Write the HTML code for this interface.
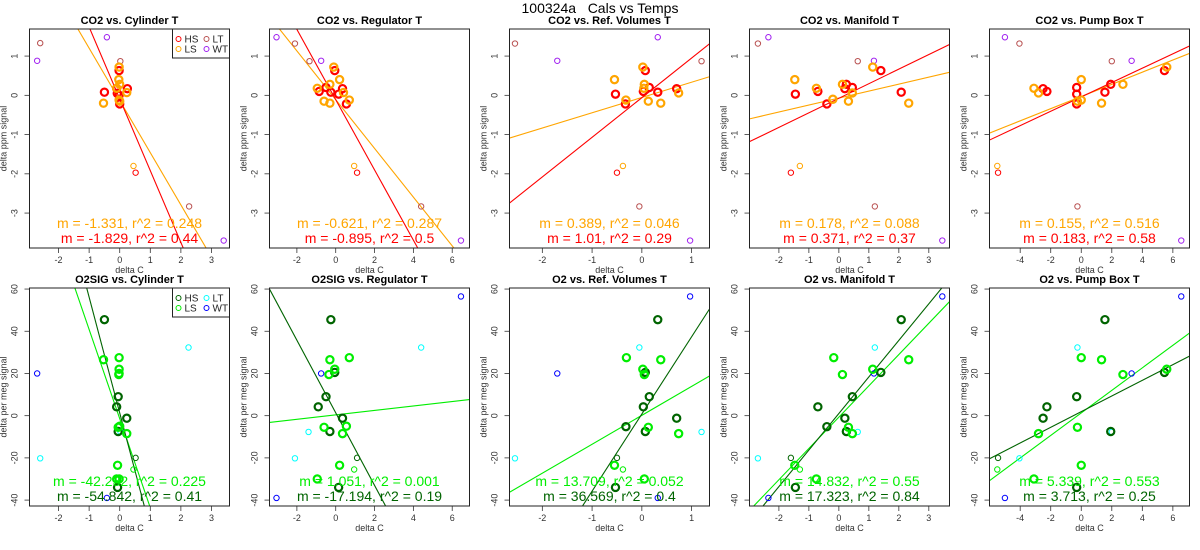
<!DOCTYPE html>
<html><head><meta charset="utf-8"><style>
html,body{margin:0;padding:0;background:#fff;width:1200px;height:550px;overflow:hidden;}
svg{display:block;font-family:"Liberation Sans",sans-serif;}
</style></head><body>
<svg id="chart" width="1200" height="550" viewBox="0 0 1200 550">
<text x="600" y="13" text-anchor="middle" font-size="14">100324a&#160;&#160;&#160;Cals vs Temps</text>
</svg>
<script>
// ---------- axis ranges ----------
const xRanges = [[-2.95,3.59],[-3.41,6.89],[-2.66,1.36],[-2.98,3.69],[-6.01,7.09]];
const xTicks = [[-2,-1,0,1,2,3],[-2,0,2,4,6],[-2,-1,0,1],[-2,-1,0,1,2,3],[-4,-2,0,2,4,6]];
const yRange1 = [-3.89,1.69];
const yRange2 = [-42.8,60.5];
const yTicks1 = [-3,-2,-1,0,1];
const yTicks2 = [-40,-20,0,20,40,60];
const titles1 = ["CO2 vs. Cylinder T","CO2 vs. Regulator T","CO2 vs. Ref. Volumes T","CO2 vs. Manifold T","CO2 vs. Pump Box T"];
const titles2 = ["O2SIG vs. Cylinder T","O2SIG vs. Regulator T","O2 vs. Ref. Volumes T","O2 vs. Manifold T","O2 vs. Pump Box T"];

// ---------- row 1 (CO2) data ----------
const r1p1_HS=[[-0.5,0.08],[-0.1,0.18],[-0.08,0.05],[-0.02,0.63],[0.25,0.17],[0,-0.22],[-0.02,0]];
const r1p1_LS=[[-0.53,-0.2],[-0.02,0.72],[-0.03,0.4],[0,0.28],[0.23,0.07],[-0.02,-0.12],[0,-0.15],[-0.1,0.18]];
const r1p1_hs=[[0.52,-1.97]], r1p1_ls=[[0.45,-1.8]];
const r1p1_LT=[[-2.6,1.33],[0.02,0.87],[2.27,-2.83]];
const r1p1_WT=[[-2.7,0.88],[-0.42,1.48],[3.4,-3.7]];

const r1p2_HS=[[-0.5,0.2],[-0.85,0.1],[-0.25,0.08],[-0.05,0.63],[0.35,0.17],[0.15,0.03],[0.55,-0.22]];
const r1p2_LS=[[-0.95,0.18],[-0.3,0.28],[-0.1,0.72],[0.2,0.4],[-0.6,-0.15],[-0.3,-0.2],[0.4,0.07],[0.7,-0.12]];
const r1p2_hs=[[1.1,-1.97]], r1p2_ls=[[0.95,-1.8]];
const r1p2_LT=[[-2.1,1.32],[-1.35,0.87],[4.4,-2.83]];
const r1p2_WT=[[-3.05,1.48],[-0.75,0.88],[6.45,-3.7]];

const r1p3_HS=[[-0.53,0.03],[-0.33,-0.22],[0.07,0.63],[0.03,0.1],[0.15,0.2],[0.32,0.08],[0.7,0.17]];
const r1p3_LS=[[-0.55,0.4],[0.02,0.72],[0.05,0.28],[0.04,0.18],[-0.32,-0.12],[0.13,-0.15],[0.38,-0.2],[0.74,0.06]];
const r1p3_hs=[[-0.5,-1.97]], r1p3_ls=[[-0.38,-1.8]];
const r1p3_LT=[[-2.55,1.32],[1.2,0.87],[-0.05,-2.83]];
const r1p3_WT=[[-1.7,0.88],[0.32,1.48],[0.97,-3.7]];

const r1p4_HS=[[-1.45,0.03],[-0.7,0.1],[-0.4,-0.22],[0.2,0.17],[0.25,0.28],[0.45,0.2],[1.4,0.63],[2.08,0.08]];
const r1p4_LS=[[-1.47,0.4],[-0.75,0.18],[-0.2,-0.1],[0.12,0.28],[0.32,-0.15],[0.45,0.06],[1.13,0.72],[2.33,-0.2]];
const r1p4_hs=[[-1.6,-1.97]], r1p4_ls=[[-1.3,-1.8]];
const r1p4_LT=[[-2.7,1.32],[0.63,0.87],[1.2,-2.83]];
const r1p4_WT=[[-2.35,1.48],[1.17,0.88],[3.45,-3.7]];

const r1p5_HS=[[-2.5,0.17],[-2.25,0.1],[-0.3,0.2],[-0.3,0.03],[-0.3,-0.22],[1.55,0.08],[1.93,0.28],[5.45,0.63]];
const r1p5_LS=[[-3.1,0.18],[-2.8,0.06],[0,0.4],[0,-0.12],[-0.25,-0.15],[1.33,-0.2],[2.73,0.28],[5.6,0.72]];
const r1p5_hs=[[-5.45,-1.97]], r1p5_ls=[[-5.5,-1.8]];
const r1p5_LT=[[-4.05,1.32],[2,0.87],[-0.25,-2.83]];
const r1p5_WT=[[-5,1.48],[3.3,0.88],[6.55,-3.7]];

// ---------- row 2 (O2) data ----------
const r2p1_HS=[[-0.5,45.5],[-0.05,9],[-0.1,4.2],[0.23,-1.2],[-0.05,-7.5],[-0.07,-34]];
const r2p1_LS=[[-0.53,26.5],[-0.02,27.5],[-0.02,22],[-0.02,20],[-0.03,19.5],[-0.05,-5.5],[0,-5],[0.23,-8.5],[-0.07,-23.5],[-0.1,-30],[-0.02,-30]];
const r2p1_hs=[[0.52,-20]], r2p1_ls=[[0.45,-25.5]];
const r2p1_LT=[[2.25,32.3],[-2.6,-20.2],[0.02,-7.5]];
const r2p1_WT=[[-2.7,20],[-0.42,-39]];

const r2p2_HS=[[-0.25,45.5],[-0.5,9],[-0.9,4.2],[0.35,-1.2],[-0.3,-7.5],[0.15,-34],[-0.05,20.5]];
const r2p2_LS=[[-0.3,26.5],[0.7,27.5],[-0.05,22],[-0.35,19.5],[-0.6,-5.5],[0.55,-5],[0.35,-8.5],[0.2,-23.5],[-0.95,-30]];
const r2p2_hs=[[1.1,-20]], r2p2_ls=[[0.95,-25.5]];
const r2p2_LT=[[4.4,32.3],[-2.1,-20.2],[-1.4,-7.7]];
const r2p2_WT=[[6.45,56.5],[-0.75,20],[-3.05,-39]];

const r2p3_HS=[[0.32,45.5],[0.15,9],[0.03,4.2],[0.7,-1.2],[-0.32,-5.2],[0.07,-7.5],[-0.53,-34],[0.07,20.5]];
const r2p3_LS=[[-0.31,27.5],[0.38,26.5],[0.02,22],[0.05,19.5],[0.13,-5.5],[0.74,-8.5],[-0.55,-23.5],[0.05,-30]];
const r2p3_hs=[[-0.5,-20]], r2p3_ls=[[-0.38,-25.5]];
const r2p3_LT=[[-0.05,32.3],[-2.55,-20.2],[1.2,-7.7]];
const r2p3_WT=[[0.97,56.5],[-1.7,20],[0.32,-39]];

const r2p4_HS=[[2.08,45.5],[0.45,9],[-0.7,4.2],[0.2,-1.2],[-0.4,-5.2],[0.25,-7.5],[-1.45,-34],[1.4,20.5]];
const r2p4_LS=[[-0.17,27.5],[2.33,26.5],[1.13,22],[0.12,19.5],[0.32,-5.5],[0.45,-8.5],[-1.47,-23.5],[-0.75,-30]];
const r2p4_hs=[[-1.6,-20]], r2p4_ls=[[-1.3,-25.5]];
const r2p4_LT=[[1.2,32.3],[-2.7,-20.2],[0.63,-7.7]];
const r2p4_WT=[[3.45,56.5],[1.17,20],[-2.35,-39]];

const r2p5_HS=[[1.55,45.5],[-0.3,9],[-2.25,4.2],[-2.5,-1.2],[1.93,-7.5],[-0.3,-34],[5.45,20.5]];
const r2p5_LS=[[0,27.5],[1.33,26.5],[5.6,22],[2.73,19.5],[-0.25,-5.5],[-2.8,-8.5],[0,-23.5],[-3.1,-30]];
const r2p5_hs=[[-5.45,-20]], r2p5_ls=[[-5.5,-25.5]];
const r2p5_LT=[[-0.25,32.3],[-4.05,-20.2],[2,-7.7]];
const r2p5_WT=[[6.55,56.5],[3.3,20],[-5,-39]];

// ---------- fit lines ----------
const slopesLS1=[-1.331,-0.621,0.389,0.178,0.155];
const interLS1=[-0.13,-0.11,-0.055,-0.07,-0.03];
const slopesHS1=[-1.829,-0.895,1.01,0.371,0.183];
const interHS1=[-0.09,-0.11,-0.06,-0.075,-0.04];
const slopesLS2=[-42.232,1.051,13.709,14.832,5.339];
const interLS2=[-1.4,0.38,0.16,-0.7,1.3];
const slopesHS2=[-54.842,-17.194,36.569,17.323,3.713];
const interHS2=[1.3,1.37,0.8,1.03,1.9];
const labelsLS1=["m = -1.331, r^2 = 0.248","m = -0.621, r^2 = 0.287","m = 0.389, r^2 = 0.046","m = 0.178, r^2 = 0.088","m = 0.155, r^2 = 0.516"];
const labelsHS1=["m = -1.829, r^2 = 0.44","m = -0.895, r^2 = 0.5","m = 1.01, r^2 = 0.29","m = 0.371, r^2 = 0.37","m = 0.183, r^2 = 0.58"];
const labelsLS2=["m = -42.232, r^2 = 0.225","m = 1.051, r^2 = 0.001","m = 13.709, r^2 = 0.052","m = 14.832, r^2 = 0.55","m = 5.339, r^2 = 0.553"];
const labelsHS2=["m = -54.842, r^2 = 0.41","m = -17.194, r^2 = 0.19","m = 36.569, r^2 = 0.4","m = 17.323, r^2 = 0.84","m = 3.713, r^2 = 0.25"];

const rows=[
 {top:29,bot:248,yr:yRange1,yt:yTicks1,titles:titles1,ylab:"delta ppm signal",
  cols:{HS:"#ff0000",LS:"#ffa500",LT:"#b85050",WT:"#a020f0"},
  data:[[r1p1_HS,r1p1_LS,r1p1_hs,r1p1_ls,r1p1_LT,r1p1_WT],[r1p2_HS,r1p2_LS,r1p2_hs,r1p2_ls,r1p2_LT,r1p2_WT],[r1p3_HS,r1p3_LS,r1p3_hs,r1p3_ls,r1p3_LT,r1p3_WT],[r1p4_HS,r1p4_LS,r1p4_hs,r1p4_ls,r1p4_LT,r1p4_WT],[r1p5_HS,r1p5_LS,r1p5_hs,r1p5_ls,r1p5_LT,r1p5_WT]],
  sLS:slopesLS1,iLS:interLS1,sHS:slopesHS1,iHS:interHS1,lLS:labelsLS1,lHS:labelsHS1,ty:[24,228,243]},
 {top:288,bot:506,yr:yRange2,yt:yTicks2,titles:titles2,ylab:"delta per meg signal",
  cols:{HS:"#006400",LS:"#00ee00",LT:"#00ffff",WT:"#0000ff"},
  data:[[r2p1_HS,r2p1_LS,r2p1_hs,r2p1_ls,r2p1_LT,r2p1_WT],[r2p2_HS,r2p2_LS,r2p2_hs,r2p2_ls,r2p2_LT,r2p2_WT],[r2p3_HS,r2p3_LS,r2p3_hs,r2p3_ls,r2p3_LT,r2p3_WT],[r2p4_HS,r2p4_LS,r2p4_hs,r2p4_ls,r2p4_LT,r2p4_WT],[r2p5_HS,r2p5_LS,r2p5_hs,r2p5_ls,r2p5_LT,r2p5_WT]],
  sLS:slopesLS2,iLS:interLS2,sHS:slopesHS2,iHS:interHS2,lLS:labelsLS2,lHS:labelsHS2,ty:[283,486,501]}
];

const svg=document.getElementById('chart');
const NS="http://www.w3.org/2000/svg";
function mk(tag,attrs,parent,txt){const e=document.createElementNS(NS,tag);for(const k in attrs)e.setAttribute(k,attrs[k]);if(txt!==undefined)e.textContent=txt;(parent||svg).appendChild(e);return e;}

rows.forEach((row,ri)=>{
 for(let c=0;c<5;c++){
  const L=29.5+240*c, R=L+200, T=row.top, B=row.bot;
  const xr=xRanges[c];
  const sx=v=>L+(v-xr[0])/(xr[1]-xr[0])*(R-L);
  const sy=v=>B-(v-row.yr[0])/(row.yr[1]-row.yr[0])*(B-T);
  const g=mk('g',{});
  
  
  const clipId='clip'+ri+c;
  const cp=mk('clipPath',{id:clipId},g);mk('rect',{x:L,y:T,width:R-L,height:B-T},cp);
  const t=mk('text',{x:(L+R)/2,y:row.ty[0],'text-anchor':'middle','font-size':11,'font-weight':'bold'},g,row.titles[c]);
  
  
  xTicks[c].forEach(v=>{
   mk('line',{x1:sx(v),x2:sx(v),y1:B,y2:B+5,stroke:'#333','stroke-width':0.8},g);
   const tl=mk('text',{x:sx(v),y:B+15,'text-anchor':'middle','font-size':9,fill:'#333'},g,String(v));
   
   
  });
  const xl=mk('text',{x:(L+R)/2,y:B+25,'text-anchor':'middle','font-size':9,fill:'#333'},g,'delta C');
  
  
  row.yt.forEach(v=>{
   mk('line',{x1:L-5,x2:L,y1:sy(v),y2:sy(v),stroke:'#333','stroke-width':0.8},g);
   const yl=mk('text',{x:L-12,y:sy(v),'text-anchor':'middle','font-size':9,fill:'#333',transform:`rotate(-90 ${L-12} ${sy(v)})`},g,String(v));
   
   
  });
  const yt=mk('text',{x:L-23,y:(T+B)/2,'text-anchor':'middle','font-size':9,fill:'#333',transform:`rotate(-90 ${L-23} ${(T+B)/2})`},g,row.ylab);
  
  
  const pg=mk('g',{'clip-path':`url(#${clipId})`},g);
  [['LS',row.sLS[c],row.iLS[c]],['HS',row.sHS[c],row.iHS[c]]].forEach(([k,m,b])=>{
   const ln=mk('line',{x1:sx(xr[0]),y1:sy(m*xr[0]+b),x2:sx(xr[1]),y2:sy(m*xr[1]+b),stroke:row.cols[k],'stroke-width':1.1},pg);
   
   
  });
  const d=row.data[c];
  const spec=[['LT',1,2.7],['WT',1,2.7],['hs',1,2.7],['ls',1,2.7],['HS',2.2,3.6],['LS',2.2,3.6]];
  const idx={HS:0,LS:1,hs:2,ls:3,LT:4,WT:5};
  spec.forEach(([k,w,r])=>{
   const col=row.cols[k.toUpperCase()];
   d[idx[k]].forEach(p=>{
    const ci=mk('circle',{cx:sx(p[0]),cy:sy(p[1]),r:r,fill:'none',stroke:col,'stroke-width':w},pg);
    
    
   });
  });
  mk('rect',{x:L,y:T,width:R-L,height:B-T,fill:'none',stroke:'#222','stroke-width':1},g);
  const a1=mk('text',{x:(L+R)/2,y:row.ty[1],'text-anchor':'middle','font-size':14,fill:row.cols.LS},g,row.lLS[c]);
  
  
  const a2=mk('text',{x:(L+R)/2,y:row.ty[2],'text-anchor':'middle','font-size':14,fill:row.cols.HS},g,row.lHS[c]);
  
  
  if(c===0){
   const lg=mk('g',{},g);
   
   
   mk('rect',{x:R-57,y:T,width:57,height:29,fill:'#fff',stroke:'#222','stroke-width':1},lg);
   [['HS',R-51,T+10],['LS',R-51,T+20],['LT',R-23,T+10],['WT',R-23,T+20]].forEach(([k,x,y])=>{
    const e=mk('g',{},lg);
    
    
    mk('circle',{cx:x,cy:y,r:2.5,fill:'none',stroke:row.cols[k],'stroke-width':1},e);
    mk('text',{x:x+6,y:y+3.5,'font-size':10,fill:'#222'},e,k);
   });
  }
 }
});
</script>
</body></html>
